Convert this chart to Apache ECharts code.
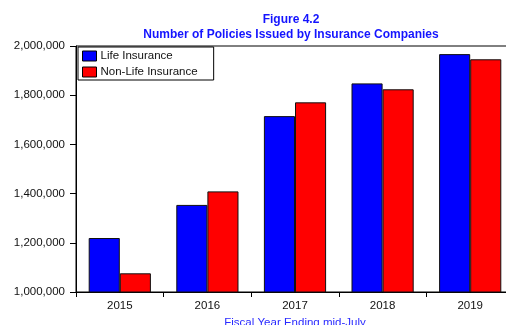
<!DOCTYPE html>
<html>
<head>
<meta charset="utf-8">
<script src="https://cdn.jsdelivr.net/npm/echarts@6/dist/echarts.min.js"></script>
<style>
    html, body { margin: 0; padding: 0; background: #fff; }
    #chart { width: 506px; height: 325px; }
</style>
</head>
<body>
<div id="chart"></div>
<script>
// values
var years = ['2015', '2016', '2017', '2018', '2019'];
var lifeIns = [1219500, 1354000, 1715000, 1848000, 1967000];
var nonLifeIns = [1076000, 1409000, 1771000, 1824000, 1946000];
var yTicks = [1000000, 1200000, 1400000, 1600000, 1800000, 2000000];

var chart = echarts.init(document.getElementById('chart'));

function fmt(v) {
    return String(v).replace(/\B(?=(\d{3})+(?!\d))/g, ',');
}

var option = {
    animation: false,
    textStyle: { fontFamily: 'Liberation Sans, Arial, sans-serif' },
    title: {
        text: 'Figure 4.2\nNumber of Policies Issued by Insurance Companies',
        left: 286,
        top: 7,
        textAlign: 'center',
        textStyle: {
            color: '#1414ff',
            fontSize: 12,
            fontWeight: 'bold',
            lineHeight: 15
        }
    },
    legend: {
        orient: 'vertical',
        left: 78,
        top: 47,
        padding: [3, 16, 2, 4],
        icon: 'rect',
        itemWidth: 14,
        itemHeight: 10,
        itemGap: 4,
        borderColor: '#000',
        borderWidth: 1,
        itemStyle: { borderColor: '#000', borderWidth: 1 },
        textStyle: { color: '#111', fontSize: 11.5, padding: [0, 0, 0, -1] },
        data: ['Life Insurance', 'Non-Life Insurance']
    },
    grid: {
        left: 76,
        right: -8,
        top: 46,
        bottom: 33,
        outerBoundsMode: 'none',
        containLabel: false,
        show: true,
        borderColor: '#000',
        borderWidth: 1
    },
    xAxis: {
        type: 'category',
        data: years,
        name: 'Fiscal Year Ending mid-July',
        nameLocation: 'middle',
        nameGap: 25,
        nameTextStyle: { color: '#2a2aff', fontSize: 11.5 },
        axisLine: { lineStyle: { color: '#000', width: 1 } },
        axisTick: { show: true, length: 5, lineStyle: { color: '#000' } },
        axisLabel: { color: '#111', fontSize: 11.5, margin: 8 }
    },
    yAxis: {
        type: 'value',
        min: yTicks[0],
        max: yTicks[yTicks.length - 1],
        interval: 200000,
        axisLine: { show: true, lineStyle: { color: '#000', width: 1 } },
        axisTick: { show: true, length: 6, lineStyle: { color: '#000' } },
        axisLabel: {
            color: '#111',
            fontSize: 11.5,
            margin: 11,
            formatter: function (v) { return fmt(v); }
        },
        splitLine: { show: false }
    },
    series: [
        {
            name: 'Life Insurance',
            type: 'bar',
            data: lifeIns,
            barGap: '0%',
            barCategoryGap: '29%',
            itemStyle: { color: '#0000ff', borderColor: '#111', borderWidth: 1 }
        },
        {
            name: 'Non-Life Insurance',
            type: 'bar',
            data: nonLifeIns,
            barGap: '0%',
            barCategoryGap: '29%',
            itemStyle: { color: '#ff0000', borderColor: '#111', borderWidth: 1 }
        }
    ]
};

chart.setOption(option);
window.addEventListener('resize', function () {
    chart.resize();
});
</script>
</body>
</html>
